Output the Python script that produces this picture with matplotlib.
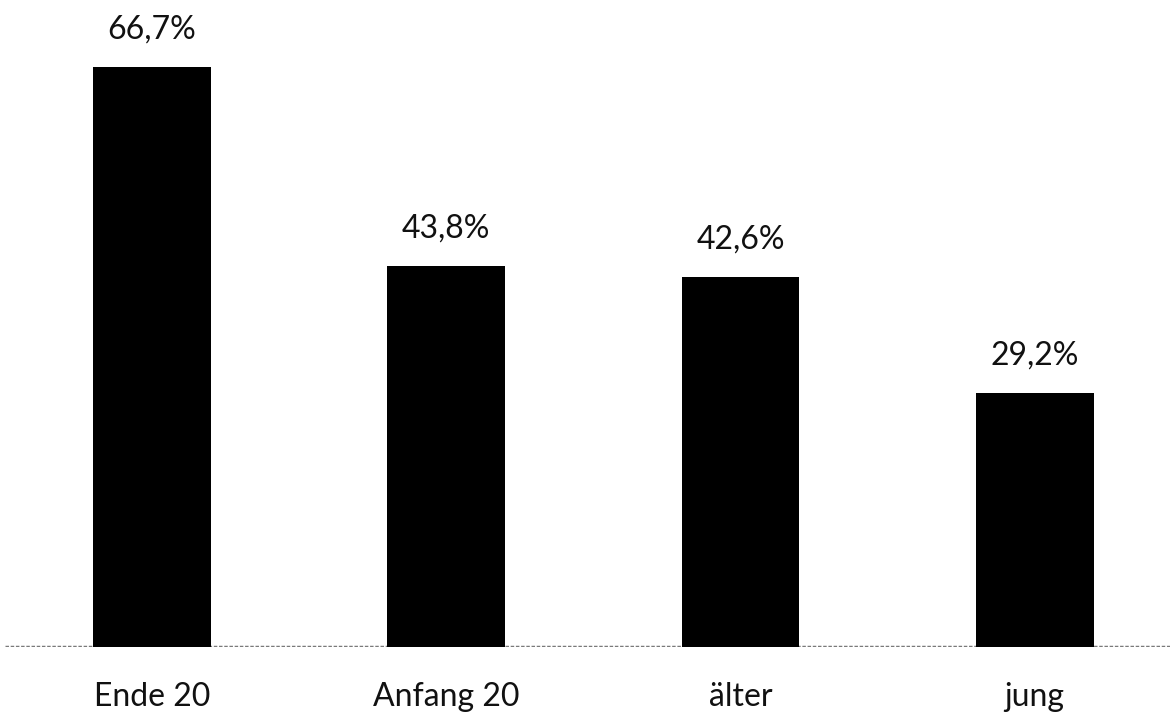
import matplotlib
matplotlib.use('Agg')
import matplotlib.pyplot as plt

categories = ['Ende 20', 'Anfang 20', 'älter', 'jung']
values = [66.7, 43.8, 42.6, 29.2]
value_labels = ['66,7%', '43,8%', '42,6%', '29,2%']

plt.rcParams['font.family'] = ['Lato', 'DejaVu Sans']

fig = plt.figure(figsize=(11.73, 7.14), dpi=100)
ax = fig.add_axes([5 / 1173, 67 / 714, 1165 / 1173, 647 / 714])

x = range(len(categories))
bars = ax.bar(x, values, width=0.4, color='black', zorder=2)

for bar, lab in zip(bars, value_labels):
    ax.annotate(lab, (bar.get_x() + bar.get_width() / 2, bar.get_height()),
                xytext=(0, 16), textcoords='offset points',
                ha='center', va='bottom', fontsize=23, color='#111111')

# dotted grey baseline
ax.axhline(0, color='#7a7a7a', linewidth=2.5, linestyle=(0, (1, 0.5)), zorder=1)

ax.set_xlim(-0.5, 3.46)
ax.set_ylim(0, 74.4)
ax.set_xticks(list(x))
ax.set_xticklabels(categories, fontsize=23, color='#111111')
ax.tick_params(axis='x', length=0, pad=25)
ax.set_yticks([])
for s in ax.spines.values():
    s.set_visible(False)

fig.savefig('out.png', dpi=100, facecolor='white')
